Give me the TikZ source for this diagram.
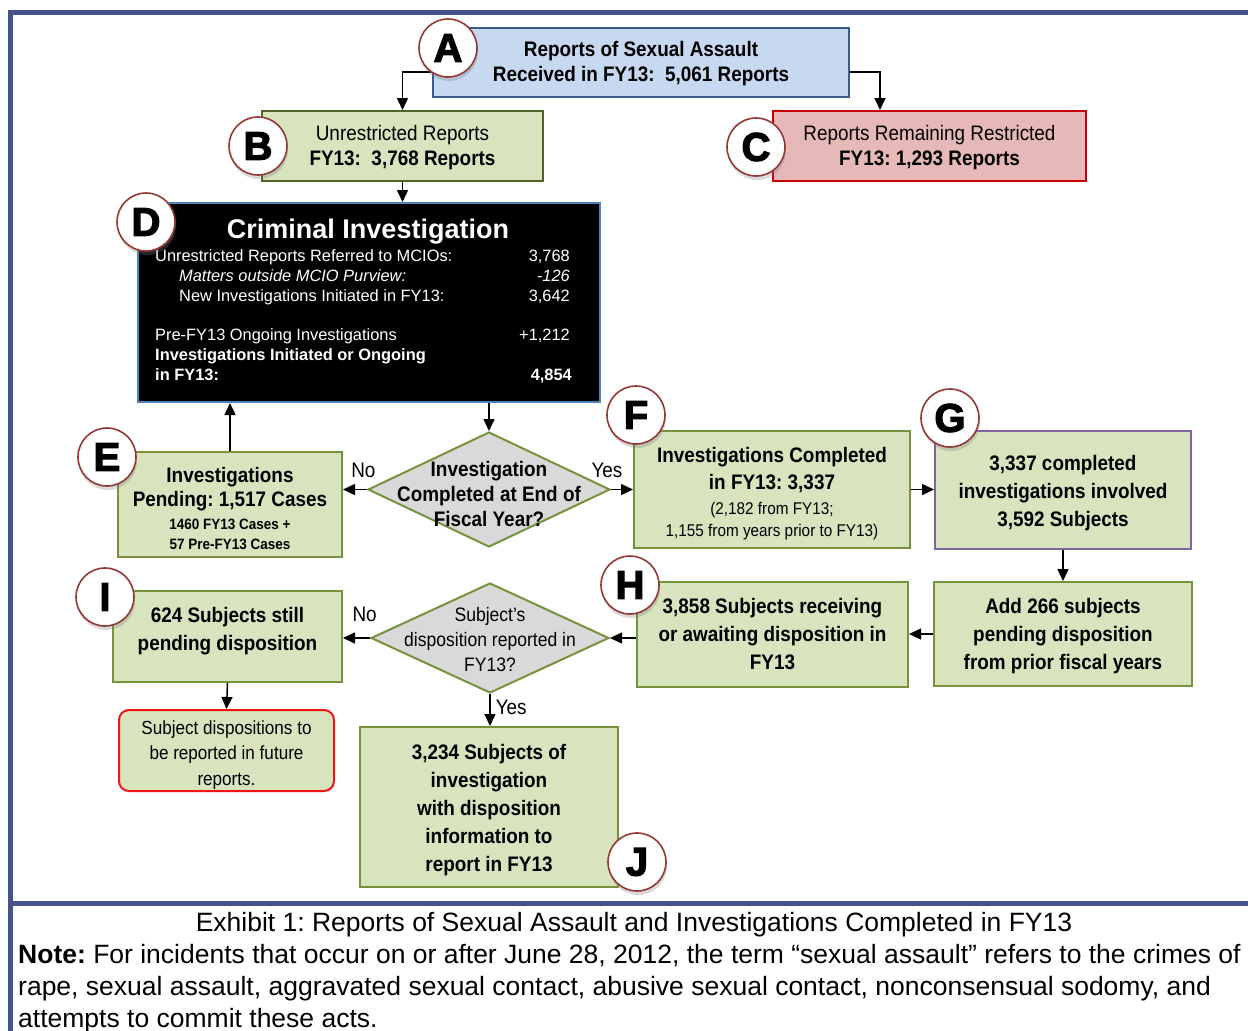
\documentclass[tikz,border=0pt]{standalone}
\usepackage{fontspec}
\setmainfont{Liberation Sans}
\newfontfamily\narrowfont[FakeStretch=0.9]{Liberation Sans}
\newfontfamily\letterfont[FakeBold=3]{Liberation Sans Bold}
\usetikzlibrary{shapes.geometric,arrows.meta,shadows}

\definecolor{framecol}{RGB}{68,84,138}
\definecolor{bluefill}{RGB}{198,217,241}
\definecolor{blueline}{RGB}{56,93,138}
\definecolor{greenfill}{RGB}{215,228,189}
\definecolor{greenline}{RGB}{118,146,60}
\definecolor{darkgreen}{RGB}{79,98,40}
\definecolor{pinkfill}{RGB}{230,185,184}
\definecolor{redline}{RGB}{200,0,0}
\definecolor{brightred}{RGB}{240,20,20}
\definecolor{crimline}{RGB}{79,129,189}
\definecolor{greyfill}{RGB}{217,217,217}
\definecolor{purpleline}{RGB}{128,100,162}
\definecolor{circred}{RGB}{149,55,53}

\newcommand{\flowfont}{\narrowfont\fontsize{21}{25}\selectfont}
\newcommand{\wideflowfont}{\narrowfont\fontsize{21}{28}\selectfont}
\newcommand{\smallflow}{\fontsize{15}{18}\selectfont}
\newcommand{\midflow}{\fontsize{17}{21}\selectfont}
\newcommand{\crimfont}{\fontsize{16.4}{20}\selectfont}
% strut on a first line, to push a box's text a little down
\newcommand{\topgap}[1]{\rule{0pt}{#1}}

\frenchspacing
\begin{document}
\begin{tikzpicture}[x=1pt,y=-1pt,
  flowbox/.style={draw, line width=2pt, inner sep=0pt, align=center},
  greenbox/.style={flowbox, fill=greenfill, draw=greenline},
  decision/.style={diamond, draw=greenline, fill=greyfill, line width=2pt, inner sep=0pt},
  letter/.style={circle, draw=circred, fill=white, line width=1.6pt, minimum size=58pt, inner sep=0pt,
    font=\letterfont\fontsize{40}{40}\selectfont,
    drop shadow={shadow xshift=1pt, shadow yshift=-4pt, opacity=0.3}},
  arr/.style={-{Triangle[length=12pt,width=11pt]}, line width=1.5pt},
  crimtxt/.style={text=white, inner sep=0pt, font=\crimfont, text height=12pt, text depth=3pt},
  ynlabel/.style={font=\narrowfont\fontsize{21}{25}\selectfont, inner sep=0pt}
]
\useasboundingbox (0,0) rectangle (1248,1031);

% outer frame
\draw[framecol, line width=5pt] (10.5,1031) -- (10.5,12.5) -- (1260,12.5);
\draw[framecol, line width=5pt] (8,903.5) -- (1260,903.5);

% reports received and the split into unrestricted / restricted
\node[flowbox, fill=bluefill, draw=blueline, minimum width=416pt, minimum height=69pt, font=\flowfont\bfseries]
  (received) at (641,62.5) {\topgap{17pt}Reports of Sexual Assault\\Received in FY13:\ \ 5,061 Reports};
\node[greenbox, draw=darkgreen, minimum width=281pt, minimum height=70pt, font=\flowfont]
  (unres) at (402.5,146) {\topgap{19pt}Unrestricted Reports\\\textbf{FY13:\ \ 3,768 Reports}};
\node[flowbox, fill=pinkfill, draw=redline, minimum width=313pt, minimum height=70pt, font=\flowfont]
  (restr) at (929.5,146) {\topgap{19pt}Reports Remaining Restricted\\\textbf{FY13: 1,293 Reports}};

% criminal investigation box
\node[flowbox, fill=black, draw=crimline, minimum width=462pt, minimum height=199pt] (crim) at (369,302.5) {};
\node[text=white, inner sep=0pt, font=\fontsize{27}{30}\selectfont\bfseries] (crimtitle) at (368,232) {Criminal Investigation};
\node[crimtxt, anchor=west] (refd) at (155,257) {Unrestricted Reports Referred to MCIOs:};
\node[crimtxt, anchor=east] (refdn) at (570,257) {3,768};
\node[crimtxt, anchor=west, font=\crimfont\itshape] (outside) at (179,277) {Matters outside MCIO Purview:};
\node[crimtxt, anchor=east, font=\crimfont\itshape] (outsiden) at (570,277) {-126};
\node[crimtxt, anchor=west] (newinv) at (179,297) {New Investigations Initiated in FY13:};
\node[crimtxt, anchor=east] (newinvn) at (570,297) {3,642};
\node[crimtxt, anchor=west] (prefy) at (155,336) {Pre-FY13 Ongoing Investigations};
\node[crimtxt, anchor=east] (prefyn) at (570,336) {+1,212};
\node[crimtxt, anchor=west, font=\crimfont\bfseries] (ongoing) at (155,356) {Investigations Initiated or Ongoing};
\node[crimtxt, anchor=west, font=\crimfont\bfseries] (ongoing2) at (155,376) {in FY13:};
\node[crimtxt, anchor=east, font=\crimfont\bfseries] (ongoingn) at (572,376) {4,854};

% first decision and its branches
\node[decision, minimum width=242pt, minimum height=115pt] (completed) at (489,489.5) {};
\node[font=\flowfont\bfseries, align=center, inner sep=0pt] (completedtxt) at (489,494) {Investigation\\Completed at End of\\Fiscal Year?};
\node[greenbox, minimum width=224pt, minimum height=105pt, font=\narrowfont\fontsize{21}{24}\selectfont\bfseries]
  (pending) at (230,504.5) {\topgap{23pt}Investigations\\Pending: 1,517 Cases\\[-1pt]{\smallflow 1460 FY13 Cases +}\\[-4pt]{\smallflow 57 Pre-FY13 Cases}};
\node[greenbox, minimum width=276pt, minimum height=117pt, font=\narrowfont\fontsize{21}{27}\selectfont]
  (done) at (772,489.5) {\topgap{24pt}\textbf{Investigations Completed}\\\textbf{in FY13: 3,337}\\[-2pt]{\midflow (2,182 from FY13;}\\[-5pt]{\midflow 1,155 from years prior to FY13)}};
\node[greenbox, draw=purpleline, minimum width=256pt, minimum height=118pt, font=\wideflowfont\bfseries]
  (subj) at (1063,490) {\topgap{22pt}3,337 completed\\investigations involved\\3,592 Subjects};

% subjects and dispositions
\node[greenbox, minimum width=258pt, minimum height=104pt, font=\wideflowfont\bfseries]
  (prior) at (1063,634) {\topgap{20pt}Add 266 subjects\\pending disposition\\from prior fiscal years};
\node[greenbox, minimum width=271pt, minimum height=105pt, font=\wideflowfont\bfseries]
  (recv) at (772.5,634.5) {3,858 Subjects receiving\\or awaiting disposition in\\FY13};
\node[decision, minimum width=238pt, minimum height=110pt] (dispq) at (490,638) {};
\node[font=\narrowfont\fontsize{19.5}{25}\selectfont, align=center, inner sep=0pt] (dispqtxt) at (490,640) {Subject’s\\disposition reported in\\FY13?};
\node[greenbox, minimum width=229pt, minimum height=91pt, font=\wideflowfont\bfseries]
  (still) at (227.5,636.5) {624 Subjects still\\pending disposition\rule[-15.5pt]{0pt}{0pt}};
\node[greenbox, draw=brightred, rounded corners=10pt, minimum width=215pt, minimum height=81pt,
  font=\narrowfont\fontsize{19}{25.5}\selectfont]
  (future) at (226.5,750.5) {\topgap{22pt}Subject dispositions to\\be reported in future\\reports.};
\node[greenbox, minimum width=258pt, minimum height=160pt, font=\wideflowfont\bfseries]
  (report) at (489,807) {\topgap{20.5pt}3,234 Subjects of\\investigation\\with disposition\\information to\\report in FY13};

% connectors
\draw[arr] ([yshift=-9.5pt]received.west) -| (unres.north);
\draw[arr] ([yshift=-9.5pt]received.east) -| ([xshift=-49.5pt]restr.north);
\draw[arr] (unres.south) -- (unres.south |- crim.north);
\draw[arr] (completed.north |- crim.south) -- (completed.north);
\draw[arr] (pending.north) -- (pending.north |- crim.south);
\draw[arr] (completed.west) -- (completed.west -| pending.east)
  node[ynlabel, pos=0.15, above=11pt] (no1) {No};
\draw[arr] (completed.east) -- (completed.east -| done.west)
  node[ynlabel, pos=0, above=11pt, xshift=-4pt] (yes1) {Yes};
\draw[arr] (done.east) -- (done.east -| subj.west);
\draw[arr] (subj.south) -- (prior.north);
\draw[arr] (prior.west) -- (prior.west -| recv.east);
\draw[arr] (recv.west |- dispq.east) -- (dispq.east);
\draw[arr] (dispq.west) -- (dispq.west -| still.east)
  node[ynlabel, pos=0.2, above=16pt] (no2) {No};
\draw[arr] (dispq.south) -- (dispq.south |- report.north)
  node[ynlabel, pos=0.41, right=5pt] (yes2) {Yes};
\draw[arr] (still.south) -- (future.north);

% letter badges
\node[letter] (la) at (448,48) {A};
\node[letter] (lb) at (258,146) {B};
\node[letter] (lc) at (756,147) {C};
\node[letter] (ld) at (146,222) {D};
\node[letter] (le) at (107,457) {E};
\node[letter] (lf) at (636,415) {F};
\node[letter] (lg) at (950,418) {G};
\node[letter] (lh) at (630,585) {H};
\node[letter] (li) at (105,597) {I};
\node[letter] (lj) at (637,862) {J};

% caption and note
\node[font=\fontsize{26.5}{32}\selectfont, inner sep=0pt] (caption) at (634,925)
  {Exhibit 1: Reports of Sexual Assault and Investigations Completed in FY13};
\node[font=\fontsize{26.5}{32}\selectfont, align=left, inner sep=0pt, anchor=west] (note) at (18,989)
  {\textbf{Note:} For incidents that occur on or after June 28, 2012, the term “sexual assault” refers to the crimes of\\
   rape, sexual assault, aggravated sexual contact, abusive sexual contact, nonconsensual sodomy, and\\
   attempts to commit these acts.};
\end{tikzpicture}
\end{document}
